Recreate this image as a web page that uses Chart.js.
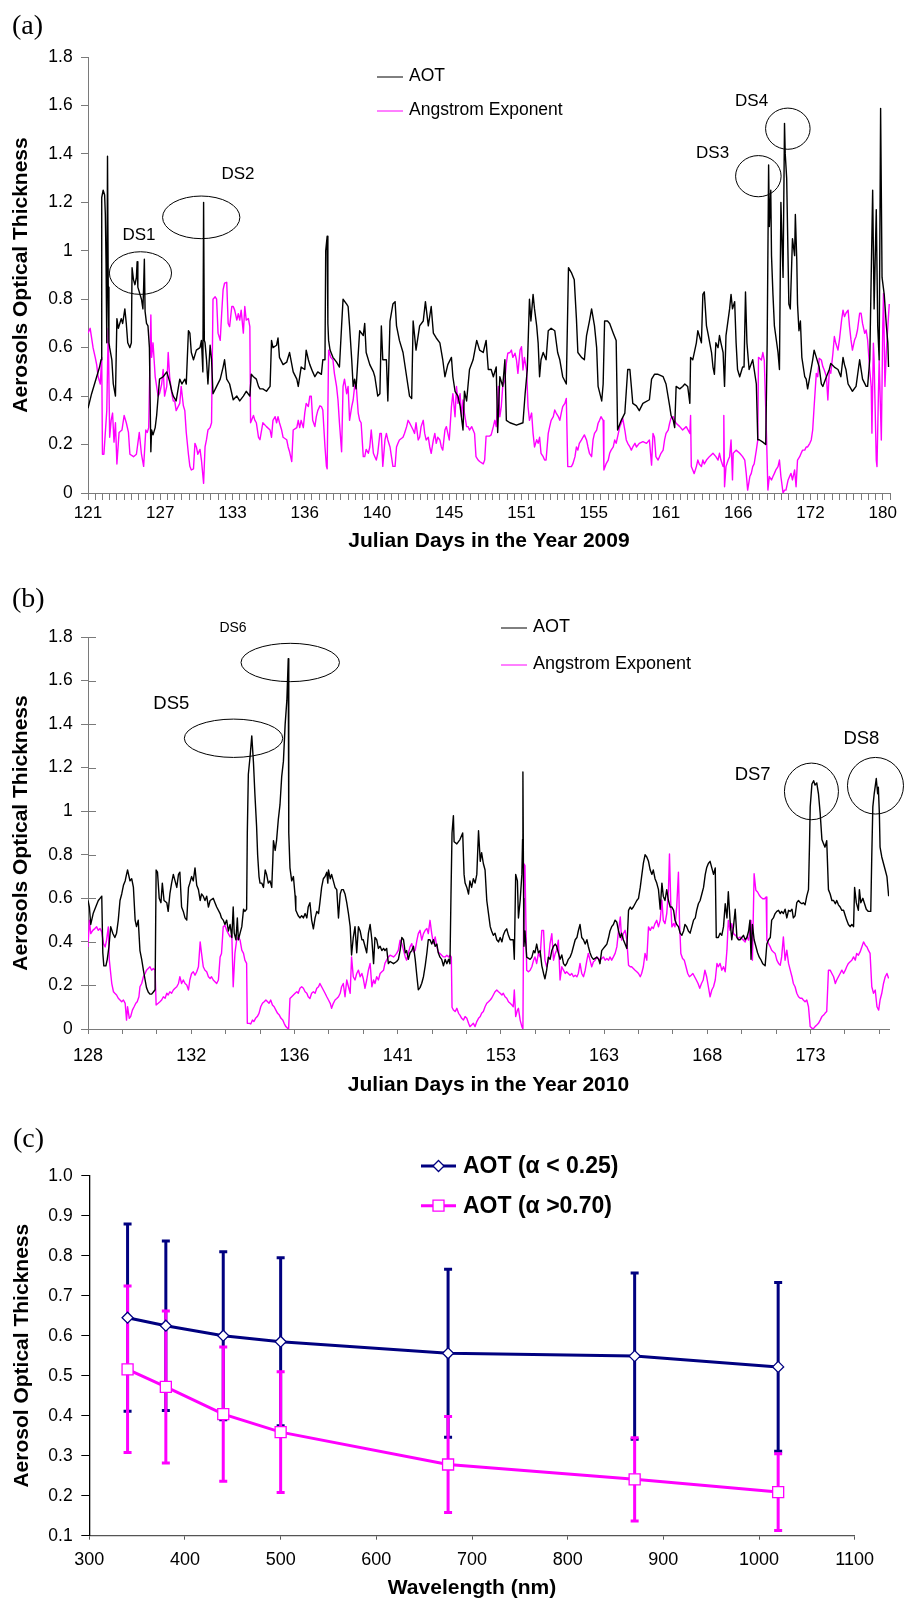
<!DOCTYPE html>
<html>
<head>
<meta charset="utf-8">
<script src="https://cdn.jsdelivr.net/npm/chart.js@4.4.0/dist/chart.umd.min.js"></script>
<style>
  html, body { margin: 0; padding: 0; background: #fff; }
  body { position: relative; width: 910px; height: 1601px; overflow: hidden; }
  canvas { position: absolute; left: 0; }
  .tag { position: absolute; font-family: "Liberation Serif", "Times New Roman", serif; font-size: 28px; line-height: 28px; color: #000; }
</style>
</head>
<body>
<canvas id="panelA" width="910" height="560" style="top:0"></canvas>
<canvas id="panelB" width="910" height="540" style="top:560px"></canvas>
<canvas id="panelC" width="910" height="501" style="top:1100px"></canvas>
<div class="tag" style="left:12px;top:11px">(a)</div>
<div class="tag" style="left:12px;top:584px">(b)</div>
<div class="tag" style="left:13px;top:1124px">(c)</div>
<script>
const SANS = '"Liberation Sans", Arial, Helvetica, sans-serif';
Chart.defaults.font.family = SANS;
Chart.defaults.color = '#000';
Chart.defaults.animation = false;

// ---- 2009: x is the observation number, one day label every 100 obs ----
const days2009 = ['121', '127', '133', '136', '140', '145', '151', '155', '161', '166', '172', '180'];

const aot2009 = [
  [0,0.35],[5,0.41],[12,0.48],[16,0.52],[18,0.55],[19,1.22],[21,1.25],[23,1.23],[24,1.15],[25,0.95],[26,0.62],[27,1.39],[28,0.85],[29,0.62],
  [30,0.60],[33,0.55],[35,0.45],[38,0.40],[40,0.72],[42,0.68],[46,0.72],[48,0.70],[51,0.76],[53,0.70],[55,0.62],[58,0.60],[60,0.62],[61,0.93],
  [63,0.88],[65,0.86],[67,0.89],[68,0.955],[69,0.85],[72,0.82],[74,0.80],[76,0.76],[77,0.85],[78,0.965],[79,0.75],[81,0.70],[83,0.69],[85,0.60],
  [87,0.17],[88,0.26],[90,0.24],[93,0.27],[95,0.32],[99,0.47],[104,0.48],[109,0.50],[113,0.46],[116,0.42],[118,0.40],[122,0.38],[127,0.47],
  [130,0.45],[134,0.47],[136,0.45],[139,0.67],[141,0.66],[143,0.58],[146,0.55],[150,0.59],[155,0.60],[157,0.63],[159,0.50],[160,1.20],[161,0.63],
  [162,0.62],[164,0.55],[166,0.45],[169,0.61],[171,0.55],[173,0.41],[178,0.44],[183,0.47],[187,0.52],[189,0.55],[192,0.47],[196,0.45],[201,0.385],
  [206,0.40],[210,0.38],[215,0.40],[219,0.42],[224,0.40],[226,0.49],[229,0.48],[233,0.47],[236,0.44],[238,0.43],[242,0.43],[247,0.42],[252,0.44],
  [254,0.63],[256,0.60],[261,0.61],[263,0.64],[265,0.56],[270,0.53],[275,0.54],[279,0.58],[284,0.50],[289,0.47],[291,0.44],[295,0.52],[300,0.51],
  [302,0.59],[305,0.55],[307,0.53],[311,0.50],[314,0.48],[318,0.50],[323,0.49],[325,0.55],[328,0.55],[329,1.00],[331,1.06],[332,0.70],[333,0.63],
  [335,0.59],[339,0.56],[344,0.54],[348,0.52],[351,0.69],[353,0.80],[358,0.78],[360,0.77],[362,0.69],[365,0.55],[367,0.44],[369,0.47],[371,0.43],
  [376,0.67],[381,0.65],[383,0.70],[385,0.58],[390,0.53],[395,0.50],[397,0.48],[401,0.40],[404,0.41],[406,0.69],[408,0.55],[413,0.55],[415,0.38],
  [418,0.71],[422,0.78],[425,0.79],[427,0.69],[431,0.63],[436,0.58],[441,0.48],[445,0.40],[448,0.39],[450,0.71],[454,0.59],[459,0.69],[464,0.71],
  [467,0.79],[471,0.69],[475,0.77],[478,0.66],[482,0.64],[487,0.62],[491,0.55],[494,0.48],[498,0.53],[503,0.56],[505,0.48],[508,0.42],[512,0.40],
  [515,0.36],[519,0.26],[521,0.42],[524,0.38],[528,0.51],[533,0.55],[538,0.63],[542,0.59],[547,0.58],[551,0.63],[554,0.51],[558,0.51],[561,0.48],
  [565,0.52],[567,0.25],[570,0.48],[574,0.44],[577,0.55],[579,0.30],[584,0.29],[593,0.28],[602,0.29],[605,0.41],[608,0.51],[611,0.80],[613,0.71],
  [616,0.82],[618,0.76],[621,0.69],[623,0.62],[625,0.48],[627,0.55],[630,0.58],[634,0.55],[637,0.67],[641,0.68],[646,0.67],[650,0.58],[653,0.55],
  [657,0.48],[662,0.45],[665,0.93],[669,0.91],[673,0.88],[676,0.72],[678,0.58],[683,0.56],[687,0.55],[690,0.65],[694,0.71],[697,0.76],[701,0.69],
  [704,0.60],[706,0.44],[711,0.38],[713,0.45],[715,0.71],[719,0.71],[722,0.70],[727,0.66],[731,0.63],[733,0.26],[738,0.30],[743,0.33],[747,0.51],
  [750,0.51],[752,0.44],[754,0.37],[759,0.36],[763,0.34],[768,0.37],[777,0.385],[780,0.47],[784,0.49],[789,0.49],[796,0.48],[800,0.45],[805,0.36],
  [807,0.32],[810,0.30],[812,0.27],[814,0.44],[819,0.43],[823,0.44],[826,0.45],[830,0.44],[833,0.37],[834,0.56],[837,0.55],[842,0.62],[844,0.67],
  [849,0.62],[851,0.82],[853,0.83],[856,0.69],[858,0.66],[863,0.58],[865,0.52],[867,0.49],[869,0.62],[872,0.60],[874,0.65],[876,0.62],[879,0.58],
  [881,0.44],[883,0.65],[888,0.76],[890,0.82],[892,0.76],[895,0.79],[897,0.62],[899,0.51],[902,0.48],[906,0.52],[908,0.52],[910,0.83],[912,0.62],
  [915,0.51],[920,0.55],[922,0.51],[925,0.45],[927,0.22],[929,0.22],[934,0.21],[938,0.20],[940,0.62],[942,1.354],[943,1.10],[945,1.25],[946,0.98],
  [948,0.82],[950,0.69],[955,0.58],[957,0.51],[959,1.20],[962,0.89],[964,1.526],[965,1.40],[967,1.30],[970,0.78],[972,0.76],[975,1.05],[978,0.98],
  [979,1.15],[981,0.96],[982,0.78],[984,0.67],[986,0.71],[988,0.56],[992,0.48],[994,0.47],[996,0.43],[999,0.48],[1003,0.55],[1005,0.59],[1008,0.56],
  [1012,0.52],[1015,0.45],[1017,0.44],[1022,0.48],[1026,0.51],[1028,0.535],[1033,0.52],[1038,0.51],[1042,0.48],[1045,0.56],[1047,0.53],[1049,0.51],
  [1052,0.45],[1054,0.44],[1058,0.42],[1063,0.44],[1068,0.55],[1072,0.47],[1077,0.44],[1079,0.44],[1082,0.55],[1086,1.25],[1088,0.76],[1091,1.17],
  [1093,0.69],[1095,0.55],[1097,1.588],[1099,0.89],[1102,0.82],[1105,0.69],[1107,0.62],[1108,0.52]
];

const angstrom2009 = [
  [0,0.66],[3,0.68],[7,0.60],[10,0.56],[12,0.53],[14,0.48],[17,0.45],[19,0.56],[20,0.16],[22,0.16],[26,0.34],[28,0.68],[30,0.23],[32,0.30],
  [34,0.33],[36,0.21],[38,0.29],[40,0.12],[43,0.25],[47,0.26],[50,0.32],[53,0.29],[56,0.25],[58,0.16],[63,0.15],[67,0.16],[71,0.25],[74,0.16],
  [77,0.11],[80,0.26],[82,0.25],[84,0.27],[87,0.735],[88,0.56],[90,0.62],[93,0.48],[95,0.44],[97,0.40],[99,0.41],[102,0.45],[104,0.51],[106,0.40],
  [109,0.44],[111,0.58],[113,0.48],[116,0.41],[118,0.38],[120,0.38],[122,0.34],[127,0.37],[129,0.44],[132,0.36],[134,0.34],[136,0.25],[139,0.16],
  [141,0.11],[143,0.095],[146,0.10],[148,0.205],[150,0.19],[152,0.16],[155,0.18],[157,0.136],[160,0.04],[162,0.19],[164,0.22],[166,0.26],[169,0.27],
  [171,0.29],[173,0.80],[176,0.81],[178,0.80],[180,0.66],[183,0.63],[185,0.74],[187,0.84],[189,0.866],[192,0.87],[194,0.70],[196,0.687],[199,0.77],
  [201,0.77],[203,0.755],[206,0.714],[208,0.74],[210,0.714],[212,0.755],[215,0.66],[217,0.77],[219,0.714],[222,0.72],[224,0.687],[225,0.29],
  [229,0.32],[231,0.30],[233,0.29],[236,0.23],[238,0.22],[242,0.29],[247,0.274],[252,0.26],[254,0.23],[256,0.30],[259,0.315],[261,0.29],[263,0.315],
  [265,0.29],[268,0.26],[270,0.23],[275,0.22],[277,0.19],[279,0.17],[282,0.13],[284,0.26],[289,0.27],[291,0.30],[293,0.27],[295,0.30],[298,0.27],
  [300,0.33],[302,0.37],[305,0.357],[307,0.40],[309,0.40],[311,0.30],[314,0.274],[316,0.315],[318,0.34],[321,0.36],[323,0.357],[325,0.343],
  [328,0.19],[330,0.11],[331,0.10],[333,0.59],[336,0.56],[339,0.55],[341,0.494],[344,0.44],[346,0.384],[348,0.29],[351,0.17],[353,0.44],[355,0.47],
  [358,0.41],[360,0.44],[362,0.30],[365,0.357],[367,0.384],[369,0.44],[371,0.453],[374,0.33],[376,0.30],[378,0.29],[381,0.15],[383,0.15],[385,0.18],
  [388,0.164],[390,0.19],[392,0.26],[395,0.164],[397,0.15],[399,0.136],[401,0.164],[404,0.246],[406,0.246],[408,0.11],[411,0.219],[413,0.246],
  [415,0.219],[418,0.19],[420,0.15],[422,0.11],[425,0.11],[427,0.19],[429,0.205],[431,0.219],[436,0.23],[438,0.246],[441,0.274],[443,0.30],
  [445,0.29],[450,0.26],[452,0.246],[454,0.29],[457,0.219],[459,0.23],[461,0.274],[464,0.30],[466,0.246],[468,0.219],[471,0.23],[473,0.19],
  [475,0.164],[478,0.219],[480,0.246],[482,0.205],[484,0.23],[487,0.219],[489,0.19],[491,0.177],[494,0.26],[496,0.274],[498,0.246],[500,0.219],
  [503,0.357],[505,0.41],[508,0.315],[510,0.44],[512,0.37],[515,0.41],[517,0.315],[519,0.384],[521,0.33],[524,0.274],[526,0.274],[528,0.26],
  [531,0.274],[533,0.26],[535,0.246],[537,0.15],[540,0.136],[542,0.13],[547,0.12],[549,0.136],[551,0.235],[556,0.235],[558,0.24],[561,0.274],
  [563,0.30],[565,0.274],[568,0.44],[570,0.315],[572,0.357],[574,0.44],[577,0.467],[579,0.535],[581,0.577],[584,0.58],[586,0.59],[588,0.56],
  [591,0.577],[593,0.55],[595,0.494],[598,0.59],[600,0.604],[602,0.508],[604,0.56],[607,0.508],[609,0.357],[611,0.30],[614,0.33],[616,0.246],
  [618,0.19],[621,0.22],[623,0.205],[625,0.23],[627,0.164],[630,0.15],[632,0.136],[634,0.136],[637,0.246],[639,0.274],[641,0.30],[644,0.315],
  [646,0.343],[648,0.33],[651,0.315],[653,0.30],[655,0.33],[657,0.357],[660,0.37],[662,0.39],[664,0.109],[669,0.109],[671,0.12],[674,0.15],
  [676,0.19],[678,0.177],[680,0.205],[683,0.219],[685,0.23],[687,0.24],[690,0.219],[692,0.19],[694,0.164],[697,0.15],[699,0.219],[701,0.246],
  [704,0.26],[706,0.288],[708,0.30],[710,0.315],[713,0.30],[714,0.095],[717,0.12],[720,0.136],[722,0.164],[724,0.177],[727,0.19],[729,0.219],
  [731,0.205],[734,0.246],[736,0.274],[738,0.288],[740,0.31],[743,0.26],[745,0.219],[747,0.205],[750,0.19],[752,0.177],[754,0.19],[757,0.205],
  [759,0.19],[763,0.205],[768,0.212],[773,0.205],[777,0.219],[780,0.115],[782,0.246],[784,0.23],[786,0.15],[789,0.136],[791,0.15],[793,0.164],
  [796,0.177],[798,0.219],[800,0.246],[803,0.26],[805,0.288],[807,0.31],[810,0.315],[812,0.30],[814,0.288],[819,0.274],[823,0.26],[828,0.274],
  [833,0.246],[834,0.32],[835,0.109],[837,0.095],[839,0.08],[842,0.109],[844,0.136],[846,0.12],[849,0.109],[851,0.136],[853,0.12],[856,0.136],
  [860,0.15],[865,0.164],[869,0.15],[872,0.136],[874,0.164],[876,0.136],[879,0.109],[880,0.32],[881,0.026],[883,0.109],[886,0.136],[888,0.15],
  [890,0.219],[892,0.054],[893,0.164],[897,0.177],[902,0.164],[906,0.15],[909,0.136],[911,0.081],[913,0.012],[916,0.068],[918,0.081],[920,0.109],
  [922,0.12],[925,0.177],[927,0.219],[928,0.56],[932,0.549],[934,0.58],[936,0.549],[939,0.246],[941,0.012],[943,0.068],[946,0.054],[948,0.068],
  [950,0.081],[952,0.095],[955,0.109],[957,0.136],[959,0.068],[962,0.0],[964,0.012],[966,0.012],[969,0.054],[971,0.068],[973,0.081],[975,0.054],
  [978,0.095],[980,0.026],[982,0.136],[985,0.15],[987,0.164],[989,0.177],[992,0.177],[994,0.19],[996,0.19],[999,0.205],[1001,0.219],[1003,0.26],
  [1005,0.357],[1008,0.494],[1010,0.48],[1012,0.556],[1015,0.549],[1017,0.522],[1019,0.508],[1022,0.48],[1024,0.384],[1026,0.508],[1028,0.494],
  [1031,0.577],[1033,0.646],[1035,0.618],[1038,0.59],[1040,0.632],[1043,0.714],[1045,0.755],[1047,0.728],[1049,0.742],[1052,0.755],[1054,0.687],
  [1056,0.632],[1058,0.59],[1061,0.632],[1063,0.646],[1065,0.673],[1068,0.742],[1070,0.742],[1072,0.70],[1075,0.659],[1077,0.673],[1079,0.632],
  [1082,0.508],[1084,0.439],[1085,0.247],[1087,0.618],[1088,0.549],[1091,0.136],[1092,0.109],[1094,0.412],[1095,0.549],[1098,0.219],[1100,0.687],
  [1101,0.824],[1103,0.44],[1105,0.59],[1107,0.687],[1109,0.78]
];

// ---- 2010: x is the observation number, one day label every 300 obs ----
const days2010 = ['128', '132', '136', '141', '153', '163', '168', '173'];

const aot2010 = [
  [0,0.59],[4,0.56],[8,0.48],[15,0.53],[25,0.57],[30,0.59],[35,0.60],[40,0.61],[43,0.35],[46,0.29],[52,0.29],[56,0.32],[61,0.38],[66,0.47],
  [72,0.44],[78,0.42],[83,0.44],[88,0.50],[93,0.59],[98,0.62],[103,0.66],[108,0.68],[112,0.71],[115,0.73],[122,0.68],[127,0.69],[132,0.65],
  [137,0.50],[141,0.47],[146,0.50],[151,0.36],[156,0.32],[161,0.27],[166,0.225],[170,0.19],[175,0.17],[180,0.16],[185,0.16],[190,0.17],[195,0.18],
  [198,0.73],[202,0.72],[207,0.60],[212,0.58],[216,0.67],[221,0.59],[229,0.58],[233,0.54],[238,0.62],[243,0.67],[248,0.71],[253,0.68],[258,0.65],
  [263,0.71],[267,0.72],[272,0.56],[277,0.54],[282,0.51],[287,0.50],[292,0.65],[296,0.67],[301,0.70],[306,0.68],[311,0.74],[316,0.66],[321,0.64],
  [326,0.59],[330,0.62],[335,0.61],[340,0.59],[345,0.61],[350,0.56],[355,0.59],[364,0.60],[369,0.58],[374,0.56],[384,0.53],[388,0.51],[393,0.50],
  [398,0.48],[403,0.50],[408,0.45],[413,0.48],[418,0.42],[422,0.56],[425,0.44],[430,0.41],[434,0.51],[437,0.41],[442,0.44],[447,0.47],[452,0.55],
  [456,0.54],[461,0.55],[463,0.90],[466,1.17],[471,1.25],[476,1.346],[481,1.22],[485,1.08],[490,0.93],[493,0.80],[497,0.70],[500,0.67],[505,0.67],
  [510,0.65],[515,0.73],[519,0.71],[524,0.67],[529,0.68],[534,0.65],[537,0.77],[539,0.865],[544,0.82],[548,0.865],[553,0.96],[558,1.03],[563,1.16],
  [568,1.23],[573,1.40],[578,1.51],[582,1.70],[583,1.55],[584,0.90],[587,0.74],[592,0.68],[597,0.70],[602,0.61],[604,0.545],[611,0.52],[616,0.51],
  [621,0.52],[626,0.51],[631,0.53],[636,0.51],[640,0.56],[645,0.58],[650,0.50],[655,0.46],[660,0.51],[665,0.54],[670,0.53],[674,0.58],[679,0.65],
  [684,0.69],[689,0.70],[694,0.72],[697,0.67],[699,0.73],[704,0.69],[708,0.71],[713,0.68],[718,0.65],[723,0.64],[728,0.51],[733,0.62],[737,0.64],
  [742,0.64],[747,0.62],[752,0.58],[757,0.53],[762,0.47],[766,0.34],[771,0.42],[776,0.47],[781,0.35],[786,0.47],[791,0.45],[796,0.41],[800,0.41],
  [805,0.38],[810,0.35],[815,0.44],[820,0.48],[825,0.41],[830,0.30],[834,0.42],[839,0.41],[844,0.37],[849,0.38],[854,0.36],[859,0.37],[863,0.36],
  [868,0.37],[873,0.30],[878,0.31],[888,0.30],[897,0.31],[902,0.32],[907,0.36],[912,0.42],[917,0.41],[922,0.35],[926,0.36],[931,0.32],[936,0.35],
  [941,0.36],[946,0.38],[951,0.32],[956,0.24],[960,0.18],[965,0.19],[970,0.21],[975,0.24],[980,0.29],[985,0.35],[989,0.41],[994,0.41],[999,0.39],
  [1004,0.41],[1009,0.38],[1014,0.39],[1018,0.35],[1023,0.33],[1028,0.32],[1033,0.29],[1038,0.32],[1043,0.30],[1048,0.32],[1052,0.30],[1055,0.62],
  [1058,0.90],[1062,0.98],[1064,0.86],[1072,0.85],[1081,0.87],[1089,0.90],[1093,0.71],[1096,0.67],[1101,0.65],[1106,0.62],[1110,0.68],[1115,0.65],
  [1120,0.69],[1125,0.67],[1130,0.71],[1135,0.91],[1140,0.77],[1144,0.81],[1149,0.76],[1154,0.73],[1159,0.59],[1164,0.53],[1169,0.47],[1173,0.45],
  [1178,0.43],[1183,0.44],[1188,0.41],[1193,0.40],[1198,0.42],[1203,0.40],[1207,0.43],[1212,0.45],[1217,0.46],[1222,0.43],[1227,0.41],[1232,0.41],
  [1236,0.41],[1239,0.32],[1243,0.71],[1248,0.68],[1251,0.51],[1256,0.59],[1261,0.71],[1263,0.87],[1264,1.18],[1266,0.60],[1267,0.38],[1270,0.45],
  [1275,0.33],[1285,0.32],[1290,0.33],[1295,0.36],[1299,0.35],[1304,0.39],[1309,0.35],[1314,0.36],[1319,0.29],[1324,0.255],[1328,0.23],[1333,0.27],
  [1338,0.33],[1343,0.32],[1348,0.36],[1353,0.38],[1358,0.39],[1362,0.38],[1367,0.35],[1372,0.32],[1377,0.34],[1382,0.30],[1387,0.29],[1391,0.30],
  [1396,0.32],[1401,0.33],[1406,0.35],[1411,0.38],[1416,0.41],[1421,0.42],[1425,0.45],[1430,0.48],[1435,0.42],[1440,0.41],[1445,0.39],[1450,0.41],
  [1454,0.38],[1459,0.35],[1464,0.33],[1469,0.32],[1479,0.33],[1484,0.32],[1488,0.30],[1493,0.36],[1498,0.37],[1503,0.38],[1508,0.39],[1513,0.42],
  [1517,0.45],[1522,0.47],[1527,0.48],[1532,0.50],[1537,0.49],[1542,0.45],[1547,0.42],[1551,0.44],[1556,0.41],[1561,0.39],[1566,0.37],[1571,0.545],
  [1576,0.56],[1580,0.55],[1585,0.56],[1590,0.575],[1595,0.59],[1600,0.60],[1605,0.65],[1609,0.70],[1614,0.76],[1619,0.80],[1624,0.79],[1629,0.77],
  [1634,0.73],[1639,0.71],[1643,0.73],[1648,0.69],[1653,0.67],[1658,0.64],[1663,0.55],[1668,0.67],[1672,0.61],[1677,0.59],[1682,0.64],[1687,0.59],
  [1692,0.56],[1697,0.56],[1702,0.545],[1706,0.50],[1711,0.48],[1716,0.47],[1721,0.44],[1726,0.43],[1731,0.45],[1735,0.48],[1740,0.47],[1745,0.45],
  [1750,0.44],[1755,0.47],[1760,0.50],[1765,0.51],[1769,0.545],[1774,0.575],[1779,0.59],[1784,0.62],[1789,0.65],[1794,0.71],[1798,0.74],[1803,0.76],
  [1808,0.77],[1813,0.74],[1818,0.71],[1823,0.74],[1826,0.42],[1832,0.42],[1837,0.44],[1842,0.43],[1847,0.47],[1852,0.575],[1857,0.51],[1861,0.63],
  [1866,0.50],[1871,0.41],[1876,0.47],[1881,0.55],[1886,0.42],[1890,0.41],[1895,0.41],[1900,0.42],[1905,0.43],[1910,0.41],[1915,0.42],[1920,0.45],
  [1924,0.50],[1927,0.32],[1931,0.48],[1936,0.41],[1941,0.38],[1946,0.35],[1951,0.33],[1955,0.32],[1961,0.30],[1968,0.29],[1973,0.39],[1978,0.41],
  [1983,0.42],[1987,0.50],[1992,0.51],[1997,0.53],[2002,0.54],[2007,0.545],[2012,0.53],[2016,0.54],[2021,0.53],[2026,0.55],[2031,0.51],[2036,0.545],
  [2041,0.54],[2046,0.55],[2050,0.51],[2055,0.52],[2060,0.58],[2065,0.59],[2070,0.58],[2075,0.575],[2079,0.58],[2084,0.57],[2089,0.61],[2094,0.64],
  [2097,0.85],[2099,1.02],[2104,1.125],[2109,1.14],[2113,1.12],[2118,1.13],[2123,1.08],[2128,0.99],[2133,0.87],[2138,0.85],[2142,0.835],[2147,0.865],
  [2152,0.64],[2157,0.62],[2162,0.59],[2167,0.59],[2172,0.575],[2176,0.59],[2181,0.57],[2186,0.56],[2191,0.545],[2196,0.545],[2201,0.52],[2205,0.50],
  [2210,0.48],[2215,0.47],[2220,0.48],[2225,0.47],[2228,0.65],[2233,0.58],[2239,0.545],[2242,0.64],[2246,0.58],[2252,0.60],[2256,0.58],[2262,0.55],
  [2268,0.54],[2275,0.54],[2278,0.80],[2281,1.02],[2285,1.08],[2291,1.15],[2295,1.08],[2297,1.11],[2300,0.99],[2302,0.835],[2307,0.79],[2312,0.76],
  [2317,0.73],[2322,0.70],[2327,0.61]
];

const angstrom2010 = [
  [0,0.377],[4,0.50],[8,0.438],[14,0.453],[20,0.461],[25,0.469],[30,0.453],[35,0.461],[40,0.446],[45,0.392],[50,0.377],[54,0.408],[59,0.469],
  [62,0.316],[66,0.255],[69,0.21],[74,0.171],[78,0.164],[83,0.156],[88,0.141],[93,0.133],[98,0.125],[103,0.133],[108,0.118],[112,0.041],[115,0.102],
  [120,0.049],[124,0.057],[129,0.087],[134,0.102],[139,0.118],[143,0.125],[148,0.148],[151,0.194],[156,0.209],[161,0.24],[166,0.255],[170,0.27],
  [175,0.278],[180,0.286],[185,0.27],[190,0.278],[195,0.27],[198,0.11],[204,0.118],[209,0.125],[214,0.133],[219,0.148],[224,0.141],[229,0.164],
  [233,0.156],[238,0.171],[243,0.164],[248,0.179],[253,0.187],[258,0.194],[263,0.209],[267,0.24],[272,0.209],[277,0.225],[282,0.209],[287,0.202],
  [292,0.179],[296,0.225],[301,0.255],[306,0.263],[311,0.247],[316,0.263],[321,0.286],[326,0.40],[330,0.347],[335,0.286],[340,0.27],[345,0.263],
  [350,0.24],[355,0.232],[359,0.24],[364,0.225],[369,0.217],[374,0.209],[379,0.225],[384,0.331],[388,0.347],[393,0.469],[398,0.476],[403,0.453],
  [408,0.438],[413,0.423],[418,0.431],[422,0.194],[427,0.347],[432,0.408],[437,0.423],[442,0.408],[447,0.362],[452,0.347],[456,0.316],[461,0.301],
  [463,0.026],[469,0.026],[473,0.023],[478,0.041],[482,0.034],[487,0.049],[492,0.057],[497,0.072],[502,0.102],[507,0.118],[512,0.125],[517,0.133],
  [522,0.125],[526,0.118],[531,0.133],[536,0.11],[541,0.102],[546,0.087],[551,0.072],[556,0.064],[561,0.049],[566,0.041],[570,0.026],[575,0.011],
  [580,0.003],[583,0.0],[587,0.14],[592,0.148],[597,0.156],[602,0.164],[607,0.171],[611,0.164],[616,0.187],[621,0.194],[626,0.187],[631,0.171],
  [636,0.164],[640,0.148],[645,0.14],[650,0.164],[655,0.171],[660,0.164],[665,0.187],[670,0.194],[674,0.209],[679,0.194],[684,0.179],[689,0.164],
  [694,0.148],[699,0.133],[704,0.118],[708,0.095],[713,0.118],[718,0.133],[723,0.14],[728,0.148],[733,0.164],[737,0.194],[742,0.209],[747,0.148],
  [752,0.225],[757,0.194],[762,0.164],[766,0.331],[771,0.24],[776,0.225],[781,0.255],[786,0.27],[791,0.24],[796,0.255],[800,0.232],[805,0.187],
  [810,0.225],[815,0.27],[820,0.301],[825,0.194],[830,0.225],[834,0.209],[839,0.24],[844,0.225],[849,0.255],[854,0.263],[859,0.27],[863,0.301],
  [868,0.316],[873,0.331],[878,0.339],[888,0.331],[893,0.339],[897,0.347],[902,0.362],[907,0.408],[912,0.392],[917,0.362],[922,0.331],[926,0.316],
  [931,0.347],[936,0.377],[941,0.392],[946,0.354],[951,0.362],[956,0.408],[960,0.438],[965,0.453],[970,0.408],[975,0.438],[980,0.453],[985,0.461],
  [989,0.438],[994,0.499],[999,0.438],[1004,0.392],[1009,0.423],[1014,0.377],[1018,0.354],[1023,0.347],[1028,0.339],[1033,0.331],[1038,0.331],
  [1043,0.339],[1048,0.331],[1052,0.339],[1056,0.33],[1058,0.10],[1062,0.087],[1067,0.08],[1072,0.095],[1077,0.072],[1081,0.064],[1086,0.049],
  [1091,0.041],[1096,0.057],[1101,0.049],[1106,0.026],[1110,0.011],[1115,0.018],[1120,0.026],[1125,0.011],[1130,0.034],[1135,0.049],[1140,0.057],
  [1144,0.072],[1149,0.08],[1154,0.102],[1159,0.118],[1164,0.125],[1169,0.133],[1173,0.141],[1178,0.156],[1183,0.171],[1188,0.179],[1193,0.171],
  [1198,0.164],[1203,0.156],[1207,0.164],[1212,0.148],[1217,0.141],[1222,0.125],[1227,0.118],[1232,0.11],[1236,0.102],[1239,0.179],[1243,0.057],
  [1248,0.087],[1251,0.095],[1256,0.041],[1261,0.011],[1264,0.0],[1267,0.759],[1270,0.75],[1275,0.27],[1280,0.263],[1285,0.27],[1290,0.286],
  [1295,0.316],[1299,0.331],[1304,0.301],[1309,0.347],[1314,0.331],[1319,0.453],[1324,0.453],[1328,0.316],[1333,0.286],[1338,0.316],[1343,0.392],
  [1348,0.438],[1353,0.316],[1358,0.347],[1362,0.362],[1367,0.408],[1372,0.225],[1377,0.286],[1382,0.27],[1387,0.255],[1391,0.263],[1396,0.255],
  [1401,0.247],[1406,0.255],[1411,0.24],[1416,0.247],[1421,0.24],[1425,0.255],[1430,0.301],[1435,0.255],[1440,0.24],[1445,0.27],[1450,0.316],
  [1454,0.347],[1459,0.316],[1464,0.286],[1469,0.309],[1474,0.316],[1479,0.331],[1484,0.324],[1488,0.316],[1493,0.324],[1498,0.331],[1503,0.316],
  [1508,0.324],[1513,0.316],[1517,0.331],[1522,0.316],[1527,0.331],[1532,0.347],[1537,0.377],[1542,0.453],[1547,0.514],[1551,0.408],[1556,0.438],
  [1561,0.453],[1566,0.408],[1571,0.293],[1576,0.286],[1580,0.286],[1585,0.278],[1590,0.27],[1595,0.263],[1600,0.255],[1605,0.24],[1609,0.255],
  [1614,0.286],[1619,0.347],[1624,0.316],[1629,0.469],[1634,0.453],[1639,0.469],[1643,0.461],[1648,0.484],[1653,0.499],[1658,0.469],[1663,0.499],
  [1668,0.591],[1672,0.499],[1677,0.484],[1682,0.53],[1687,0.637],[1690,0.804],[1694,0.56],[1697,0.469],[1702,0.484],[1706,0.469],[1711,0.56],
  [1716,0.72],[1719,0.499],[1723,0.347],[1728,0.324],[1733,0.316],[1738,0.286],[1743,0.255],[1748,0.24],[1753,0.247],[1758,0.255],[1763,0.24],
  [1768,0.225],[1773,0.209],[1778,0.187],[1783,0.209],[1788,0.225],[1793,0.27],[1798,0.24],[1803,0.194],[1808,0.148],[1813,0.179],[1818,0.194],
  [1823,0.225],[1828,0.301],[1832,0.286],[1837,0.301],[1842,0.27],[1847,0.286],[1852,0.263],[1857,0.362],[1861,0.499],[1866,0.453],[1871,0.484],
  [1876,0.438],[1881,0.431],[1886,0.423],[1890,0.415],[1895,0.423],[1900,0.415],[1905,0.408],[1910,0.40],[1915,0.423],[1920,0.408],[1924,0.453],
  [1927,0.499],[1931,0.316],[1936,0.713],[1941,0.637],[1946,0.629],[1951,0.614],[1955,0.606],[1961,0.598],[1966,0.598],[1971,0.606],[1973,0.408],
  [1978,0.392],[1983,0.377],[1987,0.362],[1992,0.354],[1997,0.347],[2002,0.316],[2007,0.301],[2012,0.293],[2016,0.331],[2021,0.423],[2026,0.316],
  [2031,0.362],[2036,0.301],[2041,0.27],[2046,0.24],[2050,0.209],[2055,0.194],[2060,0.164],[2065,0.148],[2070,0.141],[2075,0.141],[2079,0.133],
  [2084,0.125],[2089,0.133],[2094,0.102],[2099,0.011],[2104,0.003],[2109,0.003],[2113,0.011],[2118,0.018],[2123,0.026],[2128,0.041],[2133,0.057],
  [2138,0.064],[2142,0.072],[2147,0.08],[2152,0.27],[2157,0.27],[2162,0.255],[2167,0.24],[2172,0.209],[2176,0.225],[2181,0.24],[2186,0.255],
  [2191,0.27],[2196,0.255],[2201,0.27],[2205,0.286],[2210,0.301],[2215,0.309],[2220,0.316],[2225,0.331],[2230,0.316],[2234,0.347],[2239,0.339],
  [2244,0.354],[2249,0.377],[2254,0.40],[2259,0.385],[2264,0.377],[2268,0.362],[2273,0.347],[2278,0.194],[2283,0.164],[2288,0.179],[2293,0.102],
  [2298,0.087],[2302,0.133],[2307,0.164],[2312,0.209],[2317,0.24],[2322,0.255],[2327,0.232]
];

// dust-storm events: label position and ellipse (centre, half-width, half-height) in data units
const events2009 = [
  { name: 'DS1', tx: 70.5, ty: 1.065, cx: 72.6, cy: 0.908, rx: 43, ry: 0.088, size: 17 },
  { name: 'DS2', tx: 207.5, ty: 1.317, cx: 156.7, cy: 1.138, rx: 53.5, ry: 0.088, size: 17 },
  { name: 'DS3', tx: 864.5, ty: 1.404, cx: 927.8, cy: 1.308, rx: 31.5, ry: 0.085, size: 17 },
  { name: 'DS4', tx: 918.4, ty: 1.618, cx: 968.6, cy: 1.504, rx: 30.8, ry: 0.085, size: 17 }
];
const events2010 = [
  { name: 'DS5', tx: 242, ty: 1.491, cx: 423, cy: 1.335, rx: 143, ry: 0.088, size: 18.5 },
  { name: 'DS6', tx: 421.5, ty: 1.841, cx: 587.8, cy: 1.683, rx: 143, ry: 0.088, size: 14 },
  { name: 'DS7', tx: 1931.7, ty: 1.168, cx: 2102.6, cy: 1.091, rx: 78.5, ry: 0.13, size: 18.5 },
  { name: 'DS8', tx: 2247.7, ty: 1.332, cx: 2288.7, cy: 1.117, rx: 81.4, ry: 0.13, size: 18.5 }
];

// ---- (c) spectral AOT for low / high Angstrom exponent ----
const wavelengths = [340, 380, 440, 500, 675, 870, 1020];
const aotLowAlpha = [0.645, 0.625, 0.600, 0.585, 0.556, 0.549, 0.522];
const aotLowAlphaSd = [0.234, 0.212, 0.210, 0.210, 0.210, 0.208, 0.211];
const aotHighAlpha = [0.516, 0.472, 0.404, 0.359, 0.278, 0.241, 0.209];
const aotHighAlphaSd = [0.208, 0.190, 0.168, 0.151, 0.120, 0.104, 0.096];

const AXIS_GREY = '#7a7a7a';
const NAVY = '#000080';
const MAGENTA = '#ff00ff';

const toXY = pairs => pairs.map(([x, y]) => ({ x, y }));
const range = (a, b, step) => { const out = []; for (let v = a; v <= b + 1e-9; v += step) out.push({ value: +v.toFixed(2) }); return out; };

function markPlugin(events, legend, innerTicks) {
  return {
    id: 'marks',
    afterDatasetsDraw(chart) {
      const { ctx, chartArea, scales: { x, y } } = chart;
      ctx.save();
      ctx.strokeStyle = '#000';
      ctx.fillStyle = '#000';
      ctx.lineWidth = 1;
      ctx.textAlign = 'center';
      ctx.textBaseline = 'middle';
      for (const e of events) {
        const cx = x.getPixelForValue(e.cx);
        const cy = y.getPixelForValue(e.cy);
        const rx = Math.abs(x.getPixelForValue(e.cx + e.rx) - cx);
        const ry = Math.abs(y.getPixelForValue(e.cy + e.ry) - cy);
        ctx.beginPath();
        ctx.ellipse(cx, cy, rx, ry, 0, 0, Math.PI * 2);
        ctx.stroke();
        ctx.font = `${e.size}px ${SANS}`;
        ctx.fillText(e.name, x.getPixelForValue(e.tx), y.getPixelForValue(e.ty));
      }
      // legend
      ctx.textAlign = 'left';
      ctx.font = `${legend.size}px ${SANS}`;
      legend.rows.forEach((r, i) => {
        const ly = legend.y + i * legend.gap;
        ctx.strokeStyle = r.color;
        ctx.beginPath();
        ctx.moveTo(legend.x0, ly + 1);
        ctx.lineTo(legend.x1, ly + 1);
        ctx.stroke();
        ctx.fillStyle = '#000';
        ctx.fillText(r.text, legend.tx, ly);
      });
      // tick marks that also reach into the plot
      if (innerTicks) {
        ctx.strokeStyle = AXIS_GREY;
        for (const t of y.ticks) {
          const py = Math.round(y.getPixelForValue(t.value)) + 0.5;
          ctx.beginPath();
          ctx.moveTo(chartArea.left, py);
          ctx.lineTo(chartArea.left + innerTicks, py);
          ctx.stroke();
        }
      }
      ctx.restore();
    }
  };
}

function seriesChart(id, cfg) {
  return new Chart(document.getElementById(id), {
    type: 'line',
    data: {
      datasets: [
        { label: 'AOT', data: toXY(cfg.aot), borderColor: '#000', borderWidth: 1.4, pointRadius: 0, borderJoinStyle: 'round' },
        { label: 'Angstrom Exponent', data: toXY(cfg.angstrom), borderColor: MAGENTA, borderWidth: 1.4, pointRadius: 0, borderJoinStyle: 'round' }
      ]
    },
    options: {
      responsive: false,
      events: [],
      layout: { padding: { top: cfg.padTop, right: cfg.padRight, left: 0, bottom: 0 } },
      plugins: { legend: { display: false }, tooltip: { enabled: false } },
      scales: {
        x: {
          type: 'linear', min: 0, max: cfg.xMax,
          afterBuildTicks: s => { s.ticks = range(0, cfg.xMax, cfg.tickStep); },
          afterFit: s => { s.height = cfg.xHeight; },
          ticks: {
            autoSkip: false, maxRotation: 0, padding: cfg.xLabelPad, font: { size: cfg.xFont },
            callback: v => (Math.round(v) % cfg.labelStep === 0 ? cfg.days[Math.round(v) / cfg.labelStep] : '')
          },
          grid: { drawOnChartArea: false, tickLength: cfg.xTick, color: AXIS_GREY },
          border: { color: AXIS_GREY, width: 1 },
          title: { display: true, text: cfg.xTitle, font: { size: 21, weight: 'bold' }, padding: { top: 0, bottom: cfg.xTitlePad } }
        },
        y: {
          min: 0, max: 1.8,
          afterBuildTicks: s => { s.ticks = range(0, 1.8, 0.2); },
          afterFit: s => { s.width = 88; },
          ticks: { padding: 8.3, font: { size: 17.5 }, callback: v => String(Math.round(v * 10) / 10) },
          grid: { drawOnChartArea: false, tickLength: 7, color: AXIS_GREY },
          border: { color: AXIS_GREY, width: 1 },
          title: { display: true, text: 'Aerosols Optical Thickness', font: { size: 21, weight: 'bold' }, padding: { top: 8.4, bottom: 0 } }
        }
      }
    },
    plugins: [markPlugin(cfg.events, cfg.legend, cfg.innerTicks)]
  });
}

const legendRows = [
  { text: 'AOT', color: '#000' },
  { text: 'Angstrom Exponent', color: MAGENTA }
];

seriesChart('panelA', {
  aot: aot2009, angstrom: angstrom2009, days: days2009, events: events2009,
  xMax: 1110, tickStep: 10, labelStep: 100, xTitle: 'Julian Days in the Year 2009',
  padTop: 57, padRight: 20, xHeight: 67, xTick: 7, xLabelPad: 3, xFont: 17, xTitlePad: 6.4,
  legend: { rows: legendRows, x0: 377, x1: 403, tx: 409, y: 76, gap: 34, size: 17.5 },
  innerTicks: 0
});

seriesChart('panelB', {
  aot: aot2010, angstrom: angstrom2010, days: days2010, events: events2010,
  xMax: 2328, tickStep: 100, labelStep: 300, xTitle: 'Julian Days in the Year 2010',
  padTop: 77, padRight: 21, xHeight: 71, xTick: 5, xLabelPad: 11.7, xFont: 18, xTitlePad: 2.4,
  legend: { rows: legendRows, x0: 501, x1: 527, tx: 533, y: 67, gap: 37, size: 18 },
  innerTicks: 8
});

// error bars (mean +/- one standard deviation) under the lines
const errorBars = {
  id: 'errorBars',
  beforeDatasetsDraw(chart) {
    const { ctx, scales: { x, y } } = chart;
    const spreads = [aotLowAlphaSd, aotHighAlphaSd];
    ctx.save();
    ctx.lineWidth = 3;
    ctx.lineCap = 'butt';
    chart.data.datasets.forEach((ds, i) => {
      ctx.strokeStyle = ds.borderColor;
      ds.data.forEach((p, j) => {
        const px = x.getPixelForValue(p.x);
        const top = y.getPixelForValue(p.y + spreads[i][j]);
        const bot = y.getPixelForValue(p.y - spreads[i][j]);
        ctx.beginPath();
        ctx.moveTo(px, top); ctx.lineTo(px, bot);
        ctx.moveTo(px - 4, top); ctx.lineTo(px + 4, top);
        ctx.moveTo(px - 4, bot); ctx.lineTo(px + 4, bot);
        ctx.stroke();
      });
    });
    ctx.restore();
  },
  afterDraw(chart) {
    const { ctx } = chart;
    ctx.save();
    ctx.font = `bold 23px ${SANS}`;
    ctx.textBaseline = 'middle';
    ctx.textAlign = 'left';
    chart.data.datasets.forEach((ds, i) => {
      const ly = 66 + i * 39.7;
      ctx.strokeStyle = ds.borderColor;
      ctx.lineWidth = 3;
      ctx.beginPath();
      ctx.moveTo(421, ly); ctx.lineTo(456, ly);
      ctx.stroke();
      ctx.lineWidth = 1.3;
      ctx.fillStyle = '#fff';
      ctx.beginPath();
      if (i === 0) {
        ctx.moveTo(438.5, ly - 5.5); ctx.lineTo(444, ly); ctx.lineTo(438.5, ly + 5.5); ctx.lineTo(433, ly); ctx.closePath();
      } else {
        ctx.rect(433, ly - 5.5, 11, 11);
      }
      ctx.fill();
      ctx.stroke();
      ctx.fillStyle = '#000';
      ctx.fillText(ds.label, 463, ly + 1);
    });
    ctx.restore();
  }
};

new Chart(document.getElementById('panelC'), {
  type: 'line',
  data: {
    datasets: [
      {
        label: 'AOT (\u03b1 < 0.25)',
        data: wavelengths.map((w, i) => ({ x: w, y: aotLowAlpha[i] })),
        borderColor: NAVY, borderWidth: 3, pointStyle: 'rectRot', pointRadius: 5.5,
        pointBackgroundColor: '#fff', pointBorderColor: NAVY, pointBorderWidth: 1.3
      },
      {
        label: 'AOT (\u03b1 >0.70)',
        data: wavelengths.map((w, i) => ({ x: w, y: aotHighAlpha[i] })),
        borderColor: MAGENTA, borderWidth: 3, pointStyle: 'rect', pointRadius: 7.8,
        pointBackgroundColor: '#fff', pointBorderColor: MAGENTA, pointBorderWidth: 1.3
      }
    ]
  },
  options: {
    responsive: false,
    events: [],
    layout: { padding: { top: 75.7, right: 55.3, left: 0, bottom: 0 } },
    plugins: { legend: { display: false }, tooltip: { enabled: false } },
    scales: {
      x: {
        type: 'linear', min: 300, max: 1100,
        afterBuildTicks: s => { s.ticks = range(300, 1100, 100); },
        afterFit: s => { s.height = 65.3; },
        ticks: { maxRotation: 0, padding: 9.5, font: { size: 18 }, callback: v => String(Math.round(v)) },
        grid: { drawOnChartArea: false, tickLength: 4, color: '#555' },
        border: { color: '#555', width: 1.3 },
        title: { display: true, text: 'Wavelength (nm)', font: { size: 21, weight: 'bold' }, padding: { top: 0, bottom: 0 } }
      },
      y: {
        min: 0.1, max: 1.0,
        afterBuildTicks: s => { s.ticks = range(0.1, 1.0, 0.1); },
        afterFit: s => { s.width = 89.3; },
        ticks: { padding: 8.6, font: { size: 17.5 }, callback: v => v.toFixed(1) },
        grid: { drawOnChartArea: false, tickLength: 8, color: '#000' },
        border: { color: '#000', width: 1.3 },
        title: { display: true, text: 'Aerosol Optical Thickness', font: { size: 21, weight: 'bold' }, padding: { top: 9.7, bottom: 0 } }
      }
    }
  },
  plugins: [errorBars]
});
</script>
</body>
</html>
